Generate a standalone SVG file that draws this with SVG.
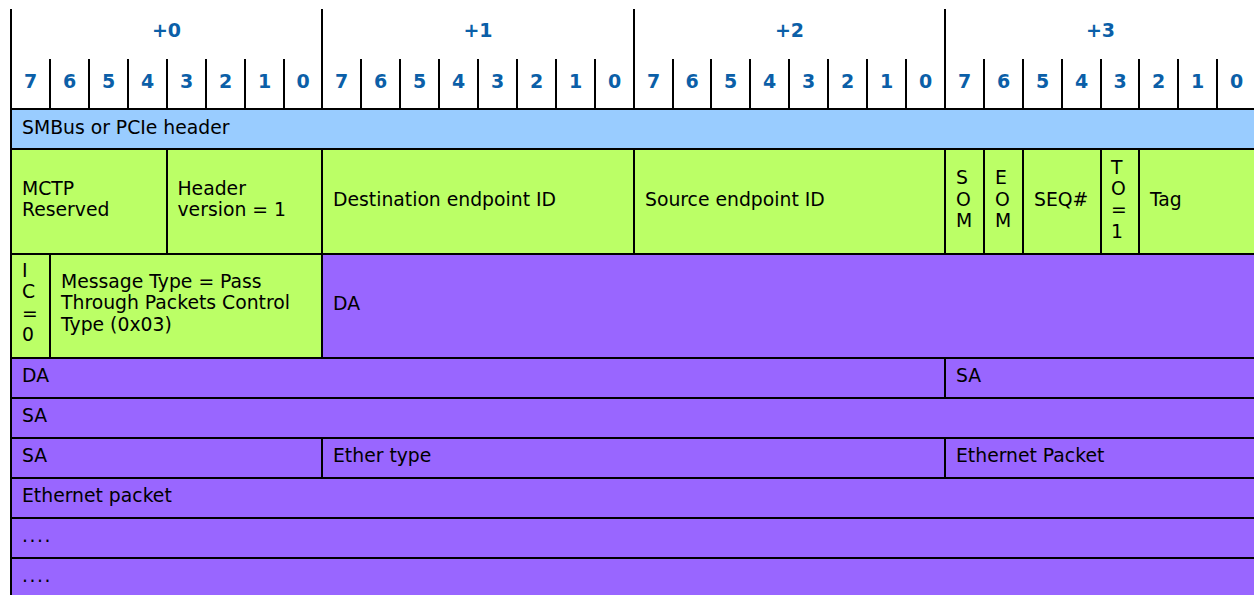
<svg xmlns="http://www.w3.org/2000/svg" width="1254" height="595" viewBox="0 0 1254 595">
<style>
.hd{font-family:"DejaVu Sans",Verdana,sans-serif;font-weight:bold;font-size:19px;fill:#0B5FA8;text-anchor:middle}
.t{font-family:"DejaVu Sans",Verdana,sans-serif;font-size:18.8px;fill:#000}
.dots{letter-spacing:1.5px}
.c{stroke:#000;stroke-width:2}
.b{fill:#99CCFF}
.g{fill:#BBFF66}
.p{fill:#9966FF}
.ln{stroke:#000;stroke-width:2;fill:none}
</style>
<rect width="1254" height="595" fill="#fff"/>
<g id="header">
<g id="bytes">
<text class="hd" x="166.5" y="37">+0</text>
<text class="hd" x="478" y="37">+1</text>
<text class="hd" x="789.5" y="37">+2</text>
<text class="hd" x="1100.5" y="37">+3</text>
</g>
<g id="bits">
<text class="hd" x="30.5" y="88">7</text><text class="hd" x="69.5" y="88">6</text><text class="hd" x="108.5" y="88">5</text><text class="hd" x="147.5" y="88">4</text><text class="hd" x="186.5" y="88">3</text><text class="hd" x="225.5" y="88">2</text><text class="hd" x="264.5" y="88">1</text><text class="hd" x="303" y="88">0</text>
<text class="hd" x="341.5" y="88">7</text><text class="hd" x="380.5" y="88">6</text><text class="hd" x="419.5" y="88">5</text><text class="hd" x="458.5" y="88">4</text><text class="hd" x="497.5" y="88">3</text><text class="hd" x="536.5" y="88">2</text><text class="hd" x="575.5" y="88">1</text><text class="hd" x="614.5" y="88">0</text>
<text class="hd" x="653.5" y="88">7</text><text class="hd" x="692" y="88">6</text><text class="hd" x="730.5" y="88">5</text><text class="hd" x="769.5" y="88">4</text><text class="hd" x="808.5" y="88">3</text><text class="hd" x="847.5" y="88">2</text><text class="hd" x="886.5" y="88">1</text><text class="hd" x="925.5" y="88">0</text>
<text class="hd" x="964.5" y="88">7</text><text class="hd" x="1003.5" y="88">6</text><text class="hd" x="1042.5" y="88">5</text><text class="hd" x="1081.5" y="88">4</text><text class="hd" x="1120" y="88">3</text><text class="hd" x="1158.5" y="88">2</text><text class="hd" x="1197.5" y="88">1</text><text class="hd" x="1236.5" y="88">0</text>
</g>
</g>
<g id="cells">
<g id="smbus"><rect class="b c" x="11" y="109" width="1246" height="40"/><text class="t" x="22" y="133.5">SMBus or PCIe header</text></g>
<g id="mctp-reserved"><rect class="g c" x="11" y="149" width="156" height="105"/><text class="t" x="22" y="195">MCTP</text><text class="t" x="22" y="216.4">Reserved</text></g>
<g id="header-version"><rect class="g c" x="167" y="149" width="155" height="105"/><text class="t" x="177.5" y="195">Header</text><text class="t" x="177.5" y="216.4">version = 1</text></g>
<g id="dest-eid"><rect class="g c" x="322" y="149" width="312" height="105"/><text class="t" x="333" y="205.7">Destination endpoint ID</text></g>
<g id="src-eid"><rect class="g c" x="634" y="149" width="311" height="105"/><text class="t" x="645" y="205.7">Source endpoint ID</text></g>
<g id="som"><rect class="g c" x="945" y="149" width="39" height="105"/><text class="t" x="956" y="184.3">S</text><text class="t" x="956" y="205.7">O</text><text class="t" x="956" y="227.1">M</text></g>
<g id="eom"><rect class="g c" x="984" y="149" width="39" height="105"/><text class="t" x="995" y="184.3">E</text><text class="t" x="995" y="205.7">O</text><text class="t" x="995" y="227.1">M</text></g>
<g id="seq"><rect class="g c" x="1023" y="149" width="78" height="105"/><text class="t" x="1034" y="205.7">SEQ#</text></g>
<g id="to"><rect class="g c" x="1101" y="149" width="38" height="105"/><text class="t" x="1111" y="173.5">T</text><text class="t" x="1111" y="194.9">O</text><text class="t" x="1111" y="216.3">=</text><text class="t" x="1111" y="237.7">1</text></g>
<g id="tag"><rect class="g c" x="1139" y="149" width="118" height="105"/><text class="t" x="1150" y="205.7">Tag</text></g>
<g id="ic"><rect class="g c" x="11" y="254" width="39" height="104"/><text class="t" x="22" y="277">I</text><text class="t" x="22" y="298.4">C</text><text class="t" x="22" y="319.8">=</text><text class="t" x="22" y="341.2">0</text></g>
<g id="msg-type"><rect class="g c" x="50" y="254" width="272" height="104"/><text class="t" x="61" y="288">Message Type = Pass</text><text class="t" x="61" y="309.4">Through Packets Control</text><text class="t" x="61" y="330.8">Type (0x03)</text></g>
<g id="da1"><rect class="p c" x="322" y="254" width="935" height="104"/><text class="t" x="333" y="310">DA</text></g>
<g id="da2"><rect class="p c" x="11" y="358" width="934" height="40"/><text class="t" x="22" y="382">DA</text></g>
<g id="sa1"><rect class="p c" x="945" y="358" width="312" height="40"/><text class="t" x="956" y="382">SA</text></g>
<g id="sa2"><rect class="p c" x="11" y="398" width="1246" height="40"/><text class="t" x="22" y="422">SA</text></g>
<g id="sa3"><rect class="p c" x="11" y="438" width="311" height="40"/><text class="t" x="22" y="462">SA</text></g>
<g id="ether-type"><rect class="p c" x="322" y="438" width="623" height="40"/><text class="t" x="333" y="462">Ether type</text></g>
<g id="eth-packet1"><rect class="p c" x="945" y="438" width="312" height="40"/><text class="t" x="956" y="462">Ethernet Packet</text></g>
<g id="eth-packet2"><rect class="p c" x="11" y="478" width="1246" height="40"/><text class="t" x="22" y="502">Ethernet packet</text></g>
<g id="dots1"><rect class="p c" x="11" y="518" width="1246" height="40"/><text class="t dots" x="22" y="542">....</text></g>
<g id="dots2"><rect class="p c" x="11" y="558" width="1246" height="40"/><text class="t dots" x="22" y="582">....</text></g>
</g>
<g id="connectors">
<path class="ln" d="M11 9V109M322 9V109M634 9V109M945 9V109"/>
<path class="ln" d="M50 59V109M89 59V109M128 59V109M167 59V109M206 59V109M245 59V109M284 59V109
M361 59V109M400 59V109M439 59V109M478 59V109M517 59V109M556 59V109M595 59V109
M673 59V109M711 59V109M750 59V109M789 59V109M828 59V109M867 59V109M906 59V109
M984 59V109M1023 59V109M1062 59V109M1101 59V109M1139 59V109M1178 59V109M1217 59V109"/>
</g>
</svg>
